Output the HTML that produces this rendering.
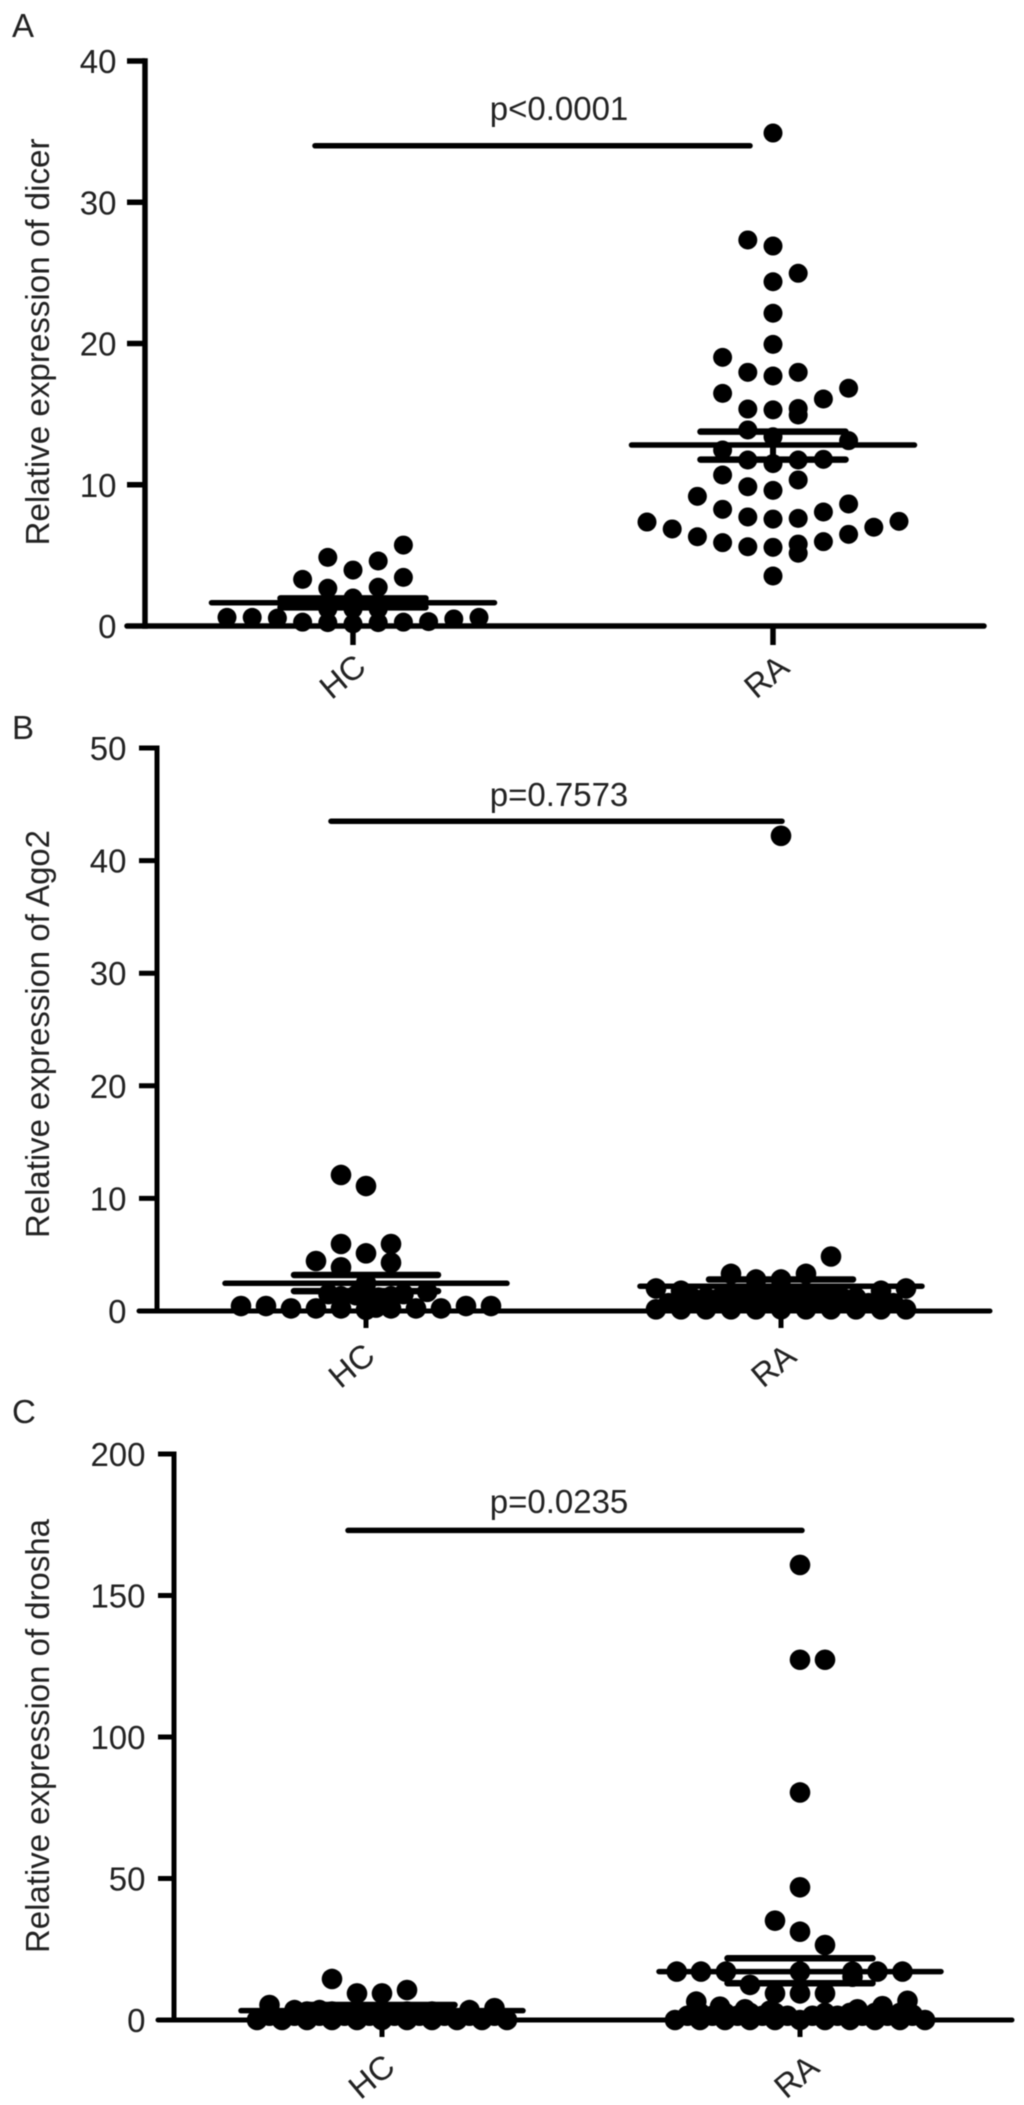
<!DOCTYPE html>
<html lang="en">
<head>
<meta charset="utf-8">
<title>Relative expression of dicer, Ago2 and drosha in HC and RA</title>
<style>
html,body{margin:0;padding:0;background:#fff;}
#figure{display:block;width:1024px;height:2105px;filter:blur(0.45px);}
text{font-family:"Liberation Sans",sans-serif;fill:#222;}
</style>
</head>
<body>
<svg id="figure" xmlns="http://www.w3.org/2000/svg" width="1024" height="2105" viewBox="0 0 1024 2105"></svg>
<script>
/* ---------- Panel A: dicer ---------- */
const dicerTicks = [0, 10, 20, 30, 40];
const dicerTickLabels = ['0', '10', '20', '30', '40'];
const categories = ['HC', 'RA'];
const dicerHcValues = [0.61,0.61,0.56,0.27,0.24,0.15,0.24,0.27,0.31,0.5,0.61,3.3,4.86,2.67,3.96,1.98,4.6,2.74,5.73,3.44,1.2,1.2,1.2];
const dicerHcSlots  = [-5,-4,-3,-2,-1,0,1,2,3,4,5,-2,-1,-1,0,0,1,1,2,2,-1,0,1];
const dicerRaValues = [7.36,6.87,6.32,9.18,5.9,8.26,10.69,12.46,16.47,19.02,5.61,7.72,9.86,11.75,13.88,15.36,17.96,27.33,3.54,5.57,7.57,9.6,11.5,13.4,15.3,17.7,19.94,22.14,24.37,26.9,34.9,5.8,5.15,7.62,10.34,11.75,15.4,14.94,17.96,24.97,5.97,8.07,11.8,16.07,6.49,8.64,13.12,16.83,6.99,7.41];
const dicerRaSlots  = [-5,-4,-3,-3,-2,-2,-2,-2,-2,-2,-1,-1,-1,-1,-1,-1,-1,-1,0,0,0,0,0,0,0,0,0,0,0,0,0,1,1,1,1,1,1,1,1,1,2,2,2,2,3,3,3,3,4,5];
const dicerMean = [1.65, 12.81];
const dicerUpper = [1.96, 13.76];
const dicerLower = [1.32, 11.78];

/* ---------- Panel B: Ago2 ---------- */
const ago2Ticks = [0, 10, 20, 30, 40, 50];
const ago2TickLabels = ['0', '10', '20', '30', '40', '50'];
const ago2HcValues = [0.44,0.44,0.23,0.23,0.23,0.1,0.3,0.23,0.23,0.23,0.44,0.44,4.44,3.88,5.95,12.08,11.1,5.12,2.46,5.95,4.29,1.7,1.3,1.3,1.4,1.2,1.5,1.5,1.2];
const ago2HcSlots  = [-5,-4,-3,-2,-1,0,0.4,1,2,3,4,5,-2,-1,-1,-1,0,0,0,1,1,2.45,-1,1,-0.4,0.5,-1.5,1.5,0];
const ago2RaValues = [0.15,0.15,0.15,0.15,0.15,0.15,0.15,0.15,0.15,0.15,0.15,2.0,1.8,1.2,1.5,1.5,1.5,1.5,1.5,1.2,1.8,2.0,1.1,1.1,1.1,1.1,1.1,1.1,1.1,3.3,2.8,2.8,3.3,4.84,42.2,0.7,0.7,0.7,0.7,0.7,0.7,0.7,0.7,0.7,0.7];
const ago2RaSlots  = [-5,-4,-3,-2,-1,0,1,2,3,4,5,-5,-4,-3,-2,-1,0,1,2,3,4,5,-3.5,-2.5,-1.5,-0.5,0.5,1.5,2.5,-2,-1,0,1,2,0,-4.5,-3.5,-2.5,-1.5,-0.5,0.5,1.5,2.5,3.5,4.5];
const ago2Mean = [2.46, 2.2];
const ago2Upper = [3.2, 2.8];
const ago2Lower = [1.77, 1.6];

/* ---------- Panel C: drosha ---------- */
const droshaTicks = [0, 50, 100, 150, 200];
const droshaTickLabels = ['0', '50', '100', '150', '200'];
const droshaHcValues = [14.5,9.4,9.4,10.6,5.3,3.5,3.5,3.5,4.2,0,0,0,0,0,0,0,0,0,0,0,1.5,1.5,1.5,1.5,1.5,1.5,1.5,1.5,1.5,1.5,3,3,3,3,3,3];
const droshaHcSlots  = [-2,-1,0,1,-4.5,-3.5,-2.5,3.5,4.5,-5,-4,-3,-2,-1,0,1,2,3,4,5,-4.5,-3.5,-2.5,-1.5,-0.5,0.5,1.5,2.5,3.5,4.5,-2,-1,0,1,2,-3];
const droshaRaValues = [160.8,127.3,127.3,80.4,46.9,35.1,31.2,26.5,17.1,17.1,17.1,17.1,17.1,17.1,17.1,12.4,9.4,9.4,9.4,15.3,6.5,4.7,3.8,3.3,3.8,4.9,6.8,1.9,0,0,0,0,0,0,0,0,0,0,0,1.5,1.5,1.5,1.5,1.5,1.5,1.5,1.5,1.5,1.5,2.5,2.5,2.5,2.5,2.5,2.5,2.5,2.5];
const droshaRaSlots  = [0,0,1,0,0,-1,0,1,-4.93,-3.96,-2.96,0,2.1,3.1,4.1,-2,-1,0,1,2.1,-4.15,-3.2,-2.2,-1.2,2.3,3.3,4.3,4.5,-5,-4,-3,-2,-1,0,1,2,3,4,5,-4.5,-3.5,-2.5,-1.5,-0.5,0.5,1.5,2.5,3.5,4.5,-4,-3,-2,-1,1,2,3,4];
const droshaMean = [3.3, 17.1];
const droshaUpper = [5.3, 21.8];
const droshaLower = [2.1, 13];

/* ---------- Panel layout (geometry, not data) ---------- */
const panels = [
  {id:'a', letter:'A', letterBase:37, title:'Relative expression of dicer', titleLen:407, titleMid:342,
   axisX:145, top:61, base:626, domainMax:40, tickLeft:127, tickDown:645, right:984, labelRight:116.5, lw:5.5, r:9.5,
   centers:[353,773], step:25.2, meanHalf:141.5, capHalf:72.5, labelDx:[-11,-7], labelDy:50,
   ticks:dicerTicks, tickLabels:dicerTickLabels, values:[dicerHcValues,dicerRaValues], slots:[dicerHcSlots,dicerRaSlots],
   mean:dicerMean, upper:dicerUpper, lower:dicerLower, pText:'p<0.0001', pValue:34.0, pX1:315, pX2:750, pBase:120},
  {id:'b', letter:'B', letterBase:739, title:'Relative expression of Ago2', titleLen:408, titleMid:1034,
   axisX:157, top:748, base:1311, domainMax:50, tickLeft:139, tickDown:1328, right:990, labelRight:126.5, lw:5, r:10.3,
   centers:[366,781], step:25, meanHalf:141, capHalf:72, labelDx:[-15,-8], labelDy:54,
   ticks:ago2Ticks, tickLabels:ago2TickLabels, values:[ago2HcValues,ago2RaValues], slots:[ago2HcSlots,ago2RaSlots],
   mean:ago2Mean, upper:ago2Upper, lower:ago2Lower, pText:'p=0.7573', pValue:43.5, pX1:331, pX2:782, pBase:806},
  {id:'c', letter:'C', letterBase:1423, title:'Relative expression of drosha', titleLen:434, titleMid:1736,
   axisX:174, top:1454, base:2020, domainMax:200, tickLeft:158, tickDown:2037, right:1012, labelRight:145.5, lw:5, r:10.3,
   centers:[382,800], step:25, meanHalf:141, capHalf:72.5, labelDx:[-11,-4], labelDy:56,
   ticks:droshaTicks, tickLabels:droshaTickLabels, values:[droshaHcValues,droshaRaValues], slots:[droshaHcSlots,droshaRaSlots],
   mean:droshaMean, upper:droshaUpper, lower:droshaLower, pText:'p=0.0235', pValue:173, pX1:348, pX2:802, pBase:1513}
];

const svg = document.getElementById('figure');
const NS = 'http://www.w3.org/2000/svg';

function yScale(p, v) { return p.base - (p.base - p.top) * v / p.domainMax; }
function xScale(p, groupIndex, slot) { return p.centers[groupIndex] + slot * p.step; }

function addLine(parent, name, x1, y1, x2, y2, w, cap) {
  const el = document.createElementNS(NS, 'line');
  el.setAttribute('x1', x1);
  el.setAttribute('y1', y1);
  el.setAttribute('x2', x2);
  el.setAttribute('y2', y2);
  el.setAttribute('stroke', '#000');
  el.setAttribute('stroke-width', w);
  el.setAttribute('stroke-linecap', cap || 'butt');
  
  
  parent.appendChild(el);
  return el;
}

function addText(parent, name, str, x, y, size, anchor) {
  const el = document.createElementNS(NS, 'text');
  el.setAttribute('x', x);
  el.setAttribute('y', y);
  el.setAttribute('font-size', size);
  el.setAttribute('text-anchor', anchor || 'start');
  el.textContent = str;
  
  
  parent.appendChild(el);
  return el;
}

panels.forEach(function (p) {
  const g = document.createElementNS(NS, 'g');
  
  
  svg.appendChild(g);

  addText(g, 'panel-letter-' + p.id, p.letter, 12, p.letterBase, 33);

  const title = addText(g, 'y-axis-title-' + p.id, p.title, 0, 0, 33, 'middle');
  title.setAttribute('transform', 'translate(49,' + p.titleMid + ') rotate(-90)');
  title.setAttribute('textLength', p.titleLen);
  title.setAttribute('lengthAdjust', 'spacingAndGlyphs');

  /* swarm points */
  p.values.forEach(function (vals, gi) {
    const sg = document.createElementNS(NS, 'g');
    
    
    g.appendChild(sg);
    vals.forEach(function (v, i) {
      const c = document.createElementNS(NS, 'circle');
      c.setAttribute('cx', xScale(p, gi, p.slots[gi][i]));
      c.setAttribute('cy', yScale(p, v));
      c.setAttribute('r', p.r);
      c.setAttribute('fill', '#000');
      
      
      sg.appendChild(c);
    });
  });

  /* axes */
  addLine(g, 'y-axis-' + p.id, p.axisX, p.top - p.lw / 2, p.axisX, p.base + p.lw / 2, p.lw);
  addLine(g, 'x-axis-' + p.id, p.tickLeft, p.base, p.right, p.base, p.lw, 'round');

  p.ticks.forEach(function (t, i) {
    const y = yScale(p, t);
    if (t !== 0) {
      addLine(g, 'y-tick-' + p.id + '-' + t, p.tickLeft, y, p.axisX, y, p.lw);
    }
    addText(g, 'y-tick-label-' + p.id + '-' + t, p.tickLabels[i], p.labelRight, y + 12, 33, 'end');
  });

  categories.forEach(function (cat, gi) {
    const cx = p.centers[gi];
    addLine(g, 'x-tick-' + cat.toLowerCase() + '-' + p.id, cx, p.base, cx, p.tickDown, p.lw);
    const lx = cx + p.labelDx[gi];
    const ly = p.base + p.labelDy;
    const lab = addText(g, 'x-tick-label-' + cat.toLowerCase() + '-' + p.id, cat, 0, 12, 33, 'middle');
    lab.setAttribute('transform', 'translate(' + lx + ',' + ly + ') rotate(-40)');

    /* mean and SEM lines */
    const my = yScale(p, p.mean[gi]);
    const uy = yScale(p, p.upper[gi]);
    const ly2 = yScale(p, p.lower[gi]);
    addLine(g, 'mean-line-' + cat.toLowerCase() + '-' + p.id, cx - p.meanHalf, my, cx + p.meanHalf, my, 5.5, 'round');
    addLine(g, 'sem-upper-cap-' + cat.toLowerCase() + '-' + p.id, cx - p.capHalf, uy, cx + p.capHalf, uy, 6.5, 'round');
    addLine(g, 'sem-lower-cap-' + cat.toLowerCase() + '-' + p.id, cx - p.capHalf, ly2, cx + p.capHalf, ly2, 6.5, 'round');
    addLine(g, 'sem-bar-' + cat.toLowerCase() + '-' + p.id, cx, uy, cx, ly2, 6);
  });

  /* significance bar */
  const py = yScale(p, p.pValue);
  addLine(g, 'significance-bar-' + p.id, p.pX1, py, p.pX2, py, 5.5, 'round');
  addText(g, 'p-value-label-' + p.id, p.pText, 559, p.pBase, 33, 'middle');
});
</script>
</body>
</html>
